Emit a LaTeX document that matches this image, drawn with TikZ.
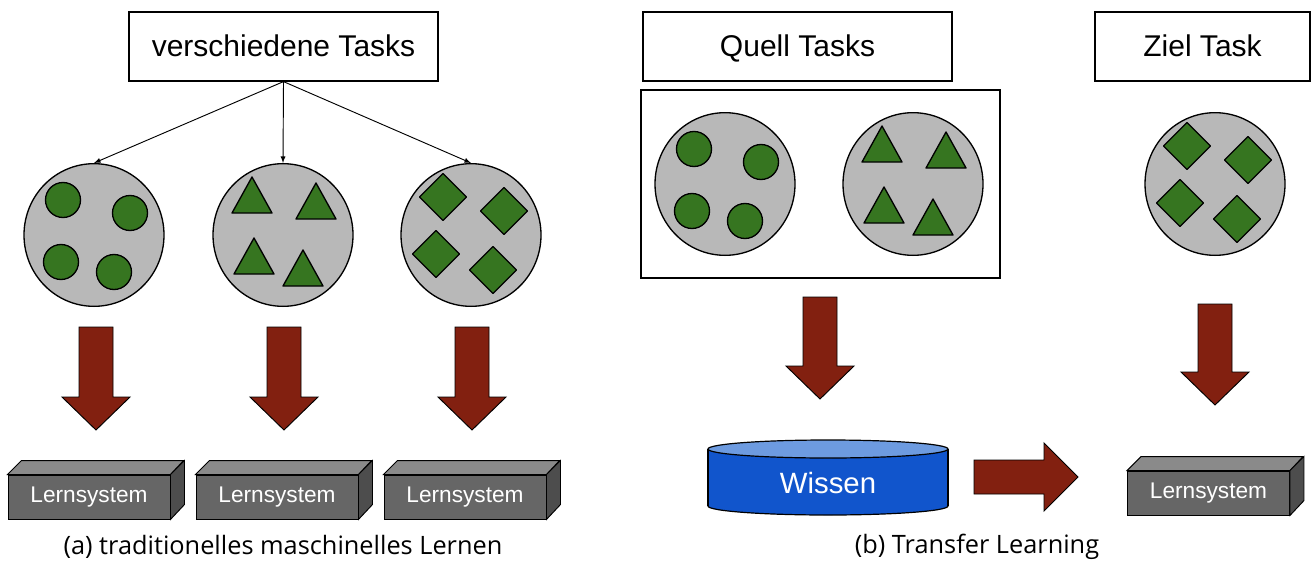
\documentclass[tikz,border=0pt]{standalone}
\usepackage{fontspec}
\setmainfont{Liberation Sans}
\newfontfamily\capfont{Open Sans}
\usetikzlibrary{shapes.geometric}

\definecolor{blobgray}{HTML}{B8B8B8}
\definecolor{leafgreen}{HTML}{367520}
\definecolor{arrowbrown}{HTML}{822010}
\definecolor{boxfront}{HTML}{666666}
\definecolor{boxtop}{HTML}{8A8A8A}
\definecolor{boxside}{HTML}{4D4D4D}
\definecolor{dbblue}{HTML}{1155CC}
\definecolor{dbtop}{HTML}{6D9BE0}

\begin{document}
\begin{tikzpicture}[x=0.75pt, y=-0.75pt, >=latex, font=\fontsize{22.5}{27}\selectfont]

    % --- STYLES ---
    \tikzstyle{taskbox} = [draw=black, line width=0.9pt, fill=white, minimum height=51.75pt, inner sep=0pt, text height=16pt, text depth=1pt]
    \tikzstyle{blob} = [ellipse, draw=black, line width=1pt, fill=blobgray, minimum width=105pt, minimum height=107pt, inner sep=0pt]
    \tikzstyle{item} = [draw=black, line width=1pt, fill=leafgreen, line join=round]
    \tikzstyle{fat} = [draw=black, line width=0.7pt, fill=arrowbrown]
    \tikzstyle{lsfront} = [draw=black, line width=0.7pt, fill=boxfront, text=white, minimum width=121.5pt, minimum height=33pt, inner sep=0pt, font=\fontsize{17}{20}\selectfont]
    \tikzstyle{lsface} = [draw=black, line width=0.7pt]
    \tikzstyle{caption} = [font=\capfont\fontsize{19}{23}\selectfont]

    % --- DEFINITIONS ---
    \def\dep{14} % depth of the Lernsystem boxes
    \def\lsw{162} % front width (px)
    \def\lsh{44}  % front height (px)
    \def\dotset{\foreach \dx/\dy in {-31/-35, 36/-22, -33/27, 20/37} \draw[item] (\dx,\dy) circle (17.5);}
    \def\triset{\foreach \dx/\dy in {-31/-58, 33/-52, -29/3, 20/15} \draw[item] (\dx,\dy) -- ++(20,36) -- ++(-40,0) -- cycle;}
    \def\diaset{\foreach \dx/\dy in {-28/-38, 33/-24, -35/19, 22/35} \draw[item] (\dx,\dy) ++(0,-23.5) -- ++(23.5,23.5) -- ++(-23.5,23.5) -- ++(-23.5,-23.5) -- cycle;}
    % fat arrow pointing down: x, top, tip
    \def\fatdown#1#2#3{\draw[fat] (#1-17,#2) -- (#1+17,#2) -- (#1+17,#3-33) -- (#1+34,#3-33) -- (#1,#3) -- (#1-34,#3-33) -- (#1-17,#3-33) -- cycle;}
    % top and side face of a Lernsystem box
    \def\cuboid#1{%
        \draw[lsface, fill=boxtop] (#1.north west) -- ++(\dep,-\dep) -- ++(\lsw,0) -- (#1.north east) -- cycle;
        \draw[lsface, fill=boxside] (#1.north east) -- ++(\dep,-\dep) -- ++(0,\lsh) -- (#1.south east) -- cycle;}

    \useasboundingbox (0,0) rectangle (1312,560);

    % --- (a) TRADITIONAL LEARNING ---

    % 1. Task box and data sets
    \node[taskbox, minimum width=231.75pt] (tasks) at (283.5,46.5) {verschiedene Tasks};
    \node[blob] (c1) at (94,235) {};
    \node[blob] (c2) at (283,235) {};
    \node[blob] (c3) at (471,235) {};
    \begin{scope}[shift={(c1.center)}] \dotset \end{scope}
    \begin{scope}[shift={(c2.center)}] \triset \end{scope}
    \begin{scope}[shift={(c3.center)}] \diaset \end{scope}
    \foreach \n in {c1,c2,c3} \draw[->, line width=0.7pt] (tasks.south) -- (\n.north);

    % 2. Big arrows
    \fatdown{96}{327}{430}
    \fatdown{284}{327}{430}
    \fatdown{472}{327}{430}

    % 3. Learning systems
    \node[lsfront] (ls1) at (89,497) {Lernsystem};
    \node[lsfront] (ls2) at (277,497) {Lernsystem};
    \node[lsfront] (ls3) at (465,497) {Lernsystem};
    \cuboid{ls1} \cuboid{ls2} \cuboid{ls3}

    \node[caption] (capa) at (283,547) {(a)~traditionelles maschinelles Lernen};

    % --- (b) TRANSFER LEARNING ---

    % 1. Source and target tasks
    \node[taskbox, minimum width=231.75pt] (quell) at (797.5,46.5) {Quell Tasks};
    \node[taskbox, minimum width=161.25pt] (ziel) at (1202.5,46.5) {Ziel Task};
    \node[draw=black, line width=0.9pt, minimum width=269.25pt, minimum height=141pt, inner sep=0pt] (frame) at (820.5,184) {};
    \node[blob] (q1) at (725,184) {};
    \node[blob] (q2) at (913,184) {};
    \node[blob] (z1) at (1215,184) {};
    \begin{scope}[shift={(q1.center)}] \dotset \end{scope}
    \begin{scope}[shift={(q2.center)}] \triset \end{scope}
    \begin{scope}[shift={(z1.center)}] \diaset \end{scope}

    % 2. Big arrows
    \fatdown{820}{297}{399}
    \fatdown{1215}{304}{405}

    % 3. Knowledge store
    \draw[line width=0.9pt, fill=dbblue] (828,506) ellipse (120 and 9);
    \fill[dbblue] (708,449) rectangle (948,506);
    \draw[line width=0.9pt] (708,449) -- (708,506) (948,449) -- (948,506);
    \draw[line width=0.9pt, fill=dbtop] (828,449) ellipse (120 and 9);
    \node[text=white, font=\fontsize{22}{26}\selectfont] (wissen) at (828,483) {Wissen};

    % 4. Transfer to the target learner
    \draw[fat] (974,460) -- (1044,460) -- (1044,443) -- (1078,477) -- (1044,511) -- (1044,494) -- (974,494) -- cycle;
    \node[lsfront] (ls4) at (1208.5,493) {Lernsystem};
    \cuboid{ls4}

    \node[caption] (capb) at (977,547) {(b)~Transfer Learning};

\end{tikzpicture}
\end{document}
